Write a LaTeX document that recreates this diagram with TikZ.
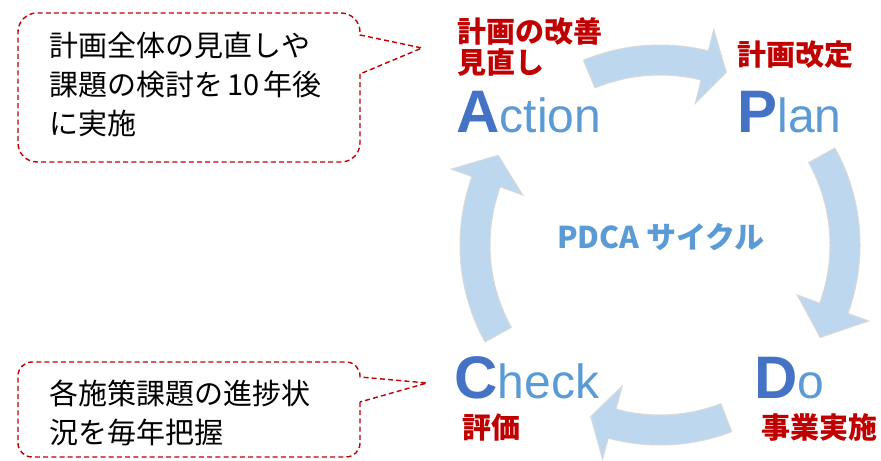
\documentclass[tikz,border=0pt]{standalone}
\usepackage{fontspec}
\setmainfont{Noto Sans CJK JP}
\newfontfamily\latinfont{Liberation Sans}
\definecolor{pdcared}{HTML}{C00000}
\definecolor{capblue}{HTML}{4472C4}
\definecolor{lowblue}{HTML}{5B9BD5}
\definecolor{arrowfill}{HTML}{BDD7EE}
\newcommand{\stagecap}[1]{{\latinfont\bfseries\fontsize{30}{30}\selectfont\color{capblue}#1}}
\newcommand{\stagerest}[1]{{\latinfont\fontsize{24}{24}\selectfont\color{lowblue}#1}}
\tikzset{
  redlabel/.style={anchor=west,inner sep=0pt,text=pdcared,font=\fontsize{14.5}{17}\selectfont\bfseries},
  stagename/.style={anchor=base west,inner sep=0pt},
  memo/.style={anchor=west,inner sep=0pt,align=left,font=\fontsize{14.5}{19.5}\selectfont},
  bubble/.style={draw=pdcared,dash pattern=on 2.5pt off 1.6pt,line width=0.7pt},
  cyclearrow/.style={fill=arrowfill,draw=black!15,line width=0.5pt}
}
\begin{document}
\begin{tikzpicture}[x=0.5pt,y=0.5pt]
\useasboundingbox (0,0) rectangle (881,460);
\pgfmathsetmacro{\ro}{200}
\pgfmathsetmacro{\ri}{170}
\pgfmathsetmacro{\ra}{19}
\pgfmathsetmacro{\rb}{14}
% four curved arrows of the cycle
\foreach \ta/\hb/\tp in {112.5/76/69, 29/-20/-30, -69/-105/-112, 209/160/151}
  \filldraw[cyclearrow,shift={(660,215)}] (\ta:\ro) arc[start angle=\ta,end angle=\hb,radius=\ro]
    --(\hb:222)--(\tp:185)--(\hb:146)--(\hb:\ri) arc[start angle=\hb,end angle=\ta,radius=\ri]--cycle;
\node[text=lowblue,font=\fontsize{15}{15}\selectfont\bfseries] (cycle) at (661,223) {PDCA サイクル};
% stages
\node[stagename] (act) at (456,327) {\stagecap{A}\stagerest{ction}};
\node[stagename] (pln) at (737,327) {\stagecap{P}\stagerest{lan}};
\node[stagename] (chk) at (454,62) {\stagecap{C}\stagerest{heck}};
\node[stagename] (doo) at (754,62) {\stagecap{D}\stagerest{o}};
\node[redlabel] (improve) at (457,428) {計画の改善};
\node[redlabel] (review) at (457,397) {見直し};
\node[redlabel] (revise) at (737,405) {計画改定};
\node[redlabel] (evaluate) at (462,32) {評価};
\node[redlabel] (execute) at (761,32) {事業実施};
% callouts
\draw[bubble] (360,386)--(360,298+\ra) arc[start angle=0,end angle=-90,radius=\ra]--(18+\ra,298)
  arc[start angle=270,end angle=180,radius=\ra]--(18,447-\ra) arc[start angle=180,end angle=90,radius=\ra]
  --(360-\ra,447) arc[start angle=90,end angle=0,radius=\ra]--(360,425)--(422,412)--cycle;
\node[memo] (plannote) at (49,376) {計画全体の見直しや\\課題の検討を\kern2pt 10\kern2pt 年後\\に実施};
\draw[bubble] (360,58)--(360,3+\rb) arc[start angle=0,end angle=-90,radius=\rb]--(18+\rb,3)
  arc[start angle=270,end angle=180,radius=\rb]--(18,98-\rb) arc[start angle=180,end angle=90,radius=\rb]
  --(360-\rb,98) arc[start angle=90,end angle=0,radius=\rb]--(360,83)--(427,77)--cycle;
\node[memo] (checknote) at (49,47.5) {各施策課題の進捗状\\況を毎年把握};
\end{tikzpicture}
\end{document}
